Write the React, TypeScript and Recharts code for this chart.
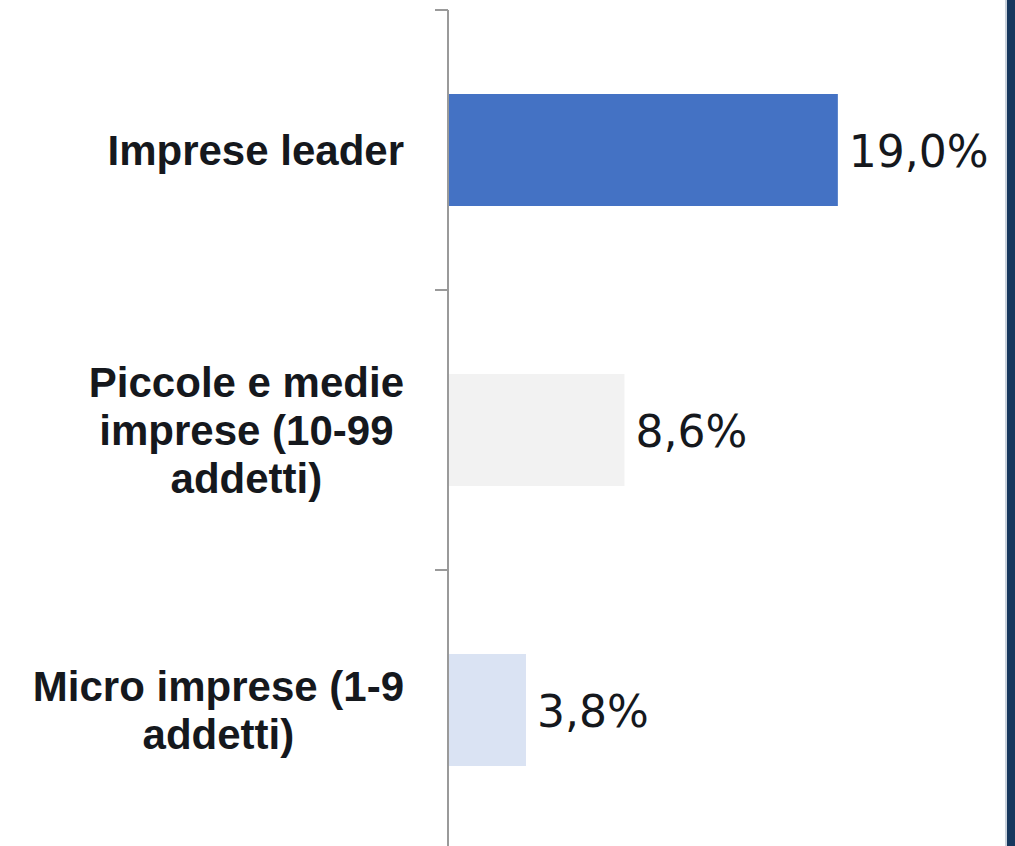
import React from "react";
import { BarChart, Bar, XAxis, YAxis, Cell, LabelList } from "recharts";

const categoryLines: string[][] = [
  ["Imprese leader"],
  ["Piccole e medie", "imprese (10-99", "addetti)"],
  ["Micro imprese (1-9", "addetti)"],
];
const categories: string[] = categoryLines.map((l) => l.join(" "));
const values: number[] = [19.0, 8.6, 3.8];
const barColors: string[] = ["#4472C4", "#F2F2F2", "#DAE3F3"];

const data = categories.map((c, i) => ({ name: c, value: values[i] }));

const W = 1015;
const H = 850;
const M = { top: 10, right: 13, bottom: 0, left: 0 };
const YW = 448;
const PLOT_H = H - M.top - M.bottom;
const BAND = PLOT_H / categories.length;
const AXIS_COLOR = "#9A9A9A";
const LABEL_FONT = "bold 42px 'Liberation Sans', Arial, sans-serif";

let ctx: CanvasRenderingContext2D | null = null;
function measure(t: string): number {
  if (typeof document === "undefined") return t.length * 22;
  if (!ctx) ctx = document.createElement("canvas").getContext("2d");
  if (!ctx) return t.length * 22;
  ctx.font = LABEL_FONT;
  return ctx.measureText(t).width;
}

const CategoryTick = (props: any) => {
  const { y, payload } = props;
  const idx = categories.indexOf(payload.value);
  const lines = idx >= 0 ? categoryLines[idx] : [String(payload.value)];
  const lh = 48;
  const cap = 30;
  const maxW = Math.max(...lines.map(measure));
  const right = 404;
  const cx = right - maxW / 2;
  const first = y - ((lines.length - 1) * lh + cap) / 2 + cap;
  return (
    <g>
      <line x1={435} x2={448} y1={y - BAND / 2} y2={y - BAND / 2} stroke={AXIS_COLOR} strokeWidth={2} />
      {lines.map((l, i) => (
        <text
          key={i}
          x={cx}
          y={first + i * lh}
          textAnchor="middle"
          fontFamily="'Liberation Sans', Arial, sans-serif"
          fontWeight="bold"
          fontSize={42}
          fill="#15181D"
        >
          {l}
        </text>
      ))}
    </g>
  );
};

const ValueLabel = (props: any) => {
  const { x, y, width, height, value } = props;
  const txt = Number(value).toFixed(1).replace(".", ",") + "%";
  return (
    <text
      x={x + width + 11}
      y={y + height / 2 + 17}
      fontFamily="'DejaVu Sans', sans-serif"
      fontSize={44}
      fill="#15181D"
    >
      {txt}
    </text>
  );
};

export default function App() {
  return (
    <div style={{ position: "relative", width: W, height: 846, overflow: "hidden", background: "#fff" }}>
      <style>{"body{margin:0;overflow:hidden;}"}</style>
      <BarChart
        width={W}
        height={H}
        data={data}
        layout="vertical"
        margin={M}
        barCategoryGap="30%"
      >
        <XAxis type="number" domain={[0, 27]} hide />
        <YAxis
          type="category"
          dataKey="name"
          width={YW}
          axisLine={{ stroke: AXIS_COLOR, strokeWidth: 2 }}
          tickLine={false}
          tick={<CategoryTick />}
          interval={0}
        />
        <Bar dataKey="value" isAnimationActive={false}>
          {data.map((d, i) => (
            <Cell key={d.name} fill={barColors[i]} />
          ))}
          <LabelList dataKey="value" content={<ValueLabel />} />
        </Bar>
      </BarChart>
      <div
        style={{
          position: "absolute",
          left: 1005,
          top: 0,
          width: 2,
          height: 846,
          background: "#C9D1DB",
        }}
      />
      <div
        style={{
          position: "absolute",
          left: 1007,
          top: 0,
          width: 8,
          height: 846,
          background: "#17375E",
        }}
      />
    </div>
  );
}
